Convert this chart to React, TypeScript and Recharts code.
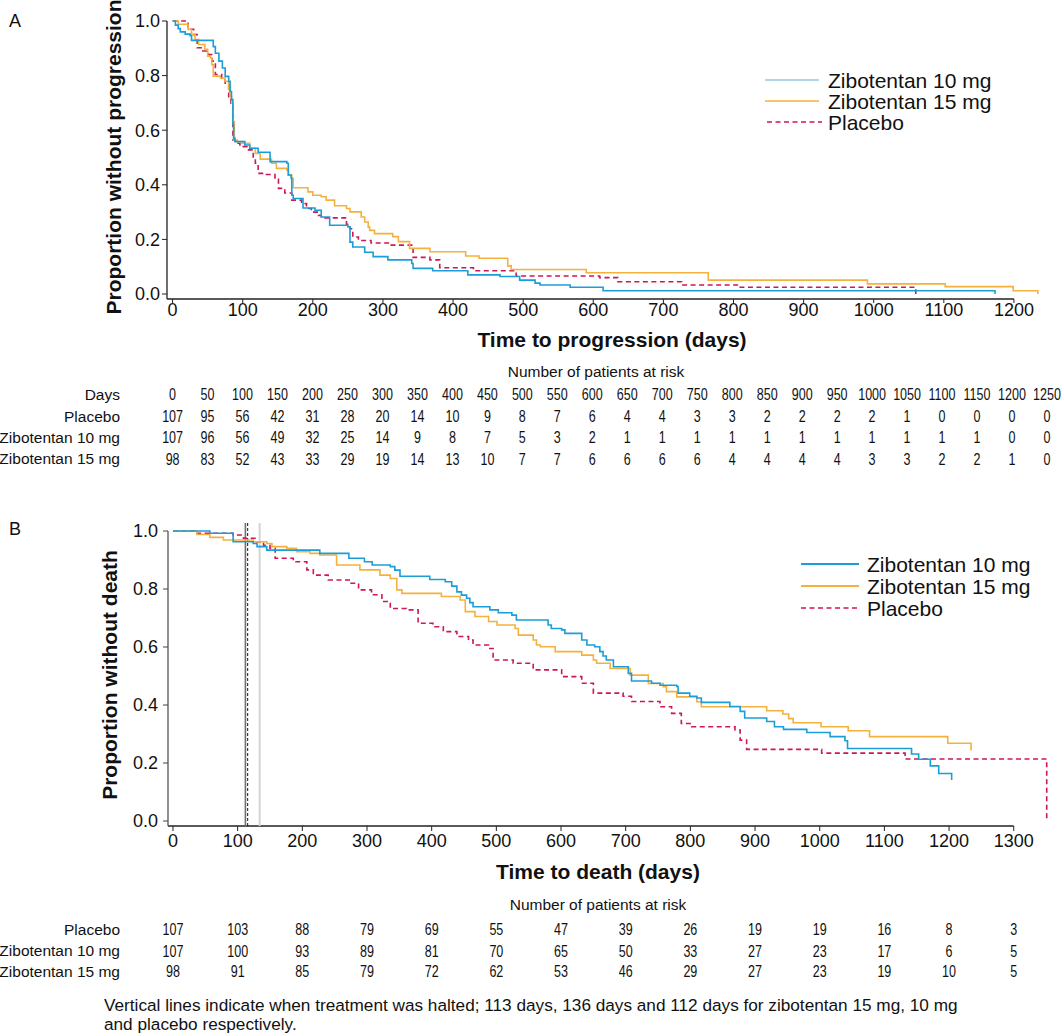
import React from "react";
import { LineChart, Line, XAxis, YAxis, ReferenceLine } from "recharts";

const FONT = '"Liberation Sans", Arial, Helvetica, sans-serif';
const BLUE = "#1b9dd9";
const BLUE_LEGEND_A = "#93c8de";
const ORANGE = "#f5b13d";
const PLACEBO = "#cf1657";

// Panel A: time to progression, [day, proportion] where each step starts
const ttp10mg: [number, number][] = [
  [0, 1.0], [4, 0.985], [8, 0.972], [11, 0.96], [18, 0.952], [25, 0.946], [27, 0.929], [58, 0.906],
  [61, 0.882], [66, 0.853], [71, 0.828], [75, 0.797], [80, 0.779], [82, 0.742], [84, 0.712], [86, 0.62],
  [87, 0.571], [89, 0.558], [103, 0.546], [110, 0.534], [122, 0.519], [139, 0.485], [163, 0.479],
  [165, 0.436], [169, 0.424], [170, 0.362], [172, 0.35], [186, 0.315], [203, 0.307], [212, 0.282],
  [224, 0.252], [250, 0.246], [253, 0.19], [257, 0.172], [274, 0.153], [286, 0.137], [307, 0.125],
  [341, 0.112], [343, 0.094], [371, 0.085], [421, 0.07], [467, 0.064], [495, 0.051], [517, 0.04],
  [524, 0.033], [567, 0.025], [614, 0.012], [1173, 0.0],
];
const ttp15mg: [number, number][] = [
  [0, 1.0], [8, 0.988], [22, 0.969], [27, 0.951], [32, 0.932], [37, 0.914], [46, 0.896], [50, 0.871],
  [54, 0.865], [56, 0.84], [58, 0.798], [68, 0.791], [75, 0.779], [80, 0.748], [82, 0.724], [84, 0.699],
  [86, 0.632], [88, 0.564], [92, 0.558], [99, 0.552], [110, 0.534], [118, 0.515], [125, 0.494],
  [141, 0.479], [148, 0.46], [163, 0.454], [165, 0.436], [170, 0.423], [172, 0.389], [193, 0.374],
  [200, 0.362], [212, 0.356], [219, 0.344], [231, 0.323], [248, 0.313], [253, 0.301], [269, 0.282],
  [274, 0.264], [279, 0.245], [281, 0.233], [288, 0.221], [314, 0.21], [322, 0.192], [338, 0.167],
  [367, 0.155], [418, 0.139], [437, 0.131], [478, 0.103], [483, 0.09], [590, 0.078], [764, 0.051],
  [991, 0.037], [1102, 0.027], [1199, 0.012], [1234, 0.0],
];
const ttpPlacebo: [number, number][] = [
  [0, 1.0], [22, 0.97], [30, 0.95], [35, 0.902], [42, 0.89], [51, 0.877], [56, 0.853], [61, 0.804],
  [70, 0.785], [75, 0.767], [80, 0.718], [83, 0.7], [86, 0.564], [89, 0.552], [96, 0.54], [106, 0.528],
  [115, 0.497], [118, 0.479], [122, 0.442], [132, 0.438], [146, 0.42], [151, 0.387], [160, 0.37],
  [170, 0.344], [184, 0.331], [191, 0.313], [198, 0.3], [208, 0.288], [212, 0.279], [248, 0.255],
  [253, 0.239], [257, 0.209], [265, 0.196], [283, 0.187], [310, 0.179], [343, 0.134], [367, 0.125],
  [381, 0.096], [429, 0.085], [490, 0.066], [609, 0.06], [635, 0.045], [726, 0.033], [807, 0.025],
  [1060, 0.0],
];

// Panel B: overall survival
const os10mg: [number, number][] = [
  [0, 1.0], [57, 0.992], [93, 0.963], [124, 0.957], [130, 0.946], [145, 0.934], [227, 0.923], [272, 0.906],
  [296, 0.894], [308, 0.883], [336, 0.877], [343, 0.865], [351, 0.844], [397, 0.833], [421, 0.825],
  [431, 0.81], [439, 0.79], [446, 0.779], [454, 0.768], [459, 0.753], [464, 0.739], [490, 0.728],
  [503, 0.718], [524, 0.71], [531, 0.693], [580, 0.676], [585, 0.664], [601, 0.659], [606, 0.647],
  [632, 0.624], [640, 0.607], [652, 0.601], [660, 0.584], [665, 0.569], [670, 0.555], [681, 0.532],
  [704, 0.509], [709, 0.483], [740, 0.475], [753, 0.468], [779, 0.464], [781, 0.441], [799, 0.43],
  [810, 0.424], [817, 0.409], [861, 0.395], [877, 0.378], [884, 0.355], [918, 0.343], [930, 0.325],
  [944, 0.316], [980, 0.305], [1016, 0.291], [1039, 0.277], [1043, 0.25], [1142, 0.231], [1153, 0.213],
  [1171, 0.19], [1184, 0.164], [1204, 0.141],
];
const os15mg: [number, number][] = [
  [0, 1.0], [37, 0.988], [57, 0.978], [78, 0.969], [124, 0.963], [145, 0.957], [153, 0.946], [176, 0.94],
  [191, 0.929], [212, 0.923], [227, 0.917], [253, 0.883], [289, 0.866], [320, 0.848], [336, 0.836],
  [346, 0.797], [354, 0.785], [415, 0.774], [444, 0.762], [452, 0.722], [467, 0.705], [488, 0.688],
  [501, 0.676], [529, 0.664], [534, 0.641], [557, 0.624], [562, 0.607], [568, 0.601], [591, 0.584],
  [632, 0.572], [650, 0.555], [655, 0.544], [676, 0.526], [707, 0.503], [735, 0.474], [758, 0.463],
  [763, 0.446], [779, 0.428], [810, 0.411], [817, 0.394], [918, 0.38], [943, 0.369], [952, 0.353],
  [959, 0.339], [1002, 0.325], [1044, 0.311], [1077, 0.291], [1198, 0.268], [1234, 0.243],
];
const osPlacebo: [number, number][] = [
  [0, 1.0], [37, 0.992], [93, 0.986], [109, 0.975], [129, 0.963], [140, 0.951], [150, 0.94], [158, 0.906],
  [186, 0.894], [207, 0.866], [217, 0.848], [240, 0.831], [274, 0.82], [287, 0.797], [307, 0.78],
  [323, 0.757], [336, 0.733], [361, 0.728], [379, 0.682], [402, 0.67], [418, 0.653], [439, 0.636],
  [457, 0.624], [464, 0.607], [488, 0.595], [495, 0.555], [526, 0.544], [557, 0.521], [601, 0.498],
  [632, 0.475], [650, 0.441], [696, 0.43], [709, 0.412], [753, 0.394], [771, 0.371], [786, 0.336],
  [802, 0.325], [869, 0.314], [877, 0.279], [887, 0.247], [1003, 0.234], [1132, 0.214], [1351, 0.0],
];

// treatment halted (days), as drawn
const haltPlacebo = 112;
const halt15mg = 115.5;
const halt10mg = 134;

const ticksA = [0, 100, 200, 300, 400, 500, 600, 700, 800, 900, 1000, 1100, 1200];
const ticksB = [0, 100, 200, 300, 400, 500, 600, 700, 800, 900, 1000, 1100, 1200, 1300];
const yTicks = [0, 0.2, 0.4, 0.6, 0.8, 1.0];

const riskDaysA = [0, 50, 100, 150, 200, 250, 300, 350, 400, 450, 500, 550, 600, 650, 700, 750, 800, 850, 900, 950, 1000, 1050, 1100, 1150, 1200, 1250];
const riskPlaceboA = [107, 95, 56, 42, 31, 28, 20, 14, 10, 9, 8, 7, 6, 4, 4, 3, 3, 2, 2, 2, 2, 1, 0, 0, 0, 0];
const risk10mgA = [107, 96, 56, 49, 32, 25, 14, 9, 8, 7, 5, 3, 2, 1, 1, 1, 1, 1, 1, 1, 1, 1, 1, 1, 0, 0];
const risk15mgA = [98, 83, 52, 43, 33, 29, 19, 14, 13, 10, 7, 7, 6, 6, 6, 6, 4, 4, 4, 4, 3, 3, 2, 2, 1, 0];

const riskDaysB = [0, 100, 200, 300, 400, 500, 600, 700, 800, 900, 1000, 1100, 1200, 1300];
const riskPlaceboB = [107, 103, 88, 79, 69, 55, 47, 39, 26, 19, 19, 16, 8, 3];
const risk10mgB = [107, 100, 93, 89, 81, 70, 65, 50, 33, 27, 23, 17, 6, 5];
const risk15mgB = [98, 91, 85, 79, 72, 62, 53, 46, 29, 27, 23, 19, 10, 5];

const toRows = (pts: [number, number][]) => pts.map(([t, p]) => ({ t, p }));

const Y_MIN_A = -0.0183;
const Y_MIN_B = -0.0172;
const X_DOM_A: [number, number] = [-8, 1245];
const X_DOM_B: [number, number] = [-7.7, 1357];

// risk table columns sit under the plot's day positions
const colA = (d: number) => 172.6 + d * 0.6995;
const colB = (d: number) => 173 + d * 0.6467;

const tickStyle = { fontSize: 18, fill: "#111", fontFamily: FONT };

// condensed number cell, like the narrow digits of the printed table
function Cell({ x, y, v }: { x: number; y: number; v: number }) {
  return (
    <g transform={`translate(${x},${y}) scale(0.76,1)`}>
      <text x={0} y={0} textAnchor="middle" fontSize={16.5} fontFamily={FONT} fill="#111">{v}</text>
    </g>
  );
}

export default function App() {
  const lineProps = { type: "stepAfter" as const, dataKey: "p", dot: false, isAnimationActive: false, strokeWidth: 1.6 };
  const txt = { fontFamily: FONT, fill: "#111" };

  return (
    <div style={{ position: "absolute", left: 0, top: 0, width: 1063, height: 1034, background: "#fff", fontFamily: FONT }}>
      <div style={{ position: "absolute", left: 0, top: 0 }}>
        <LineChart width={1063} height={340} margin={{ top: 21, right: 17.5, bottom: 11, left: 107 }}>
          <XAxis type="number" dataKey="t" domain={X_DOM_A} ticks={ticksA} interval={0} axisLine={false}
            tickLine={{ stroke: "#222" }} tickSize={4} tickMargin={0} tick={tickStyle} height={30} />
          <YAxis type="number" domain={[Y_MIN_A, 1]} ticks={yTicks} interval={0} width={60}
            tickFormatter={(v: number) => v.toFixed(1)} axisLine={{ stroke: "#222", strokeWidth: 1.3 }}
            tickLine={{ stroke: "#222" }} tickSize={5} tickMargin={2} tick={tickStyle} />
          <ReferenceLine segment={[{ x: X_DOM_A[0], y: Y_MIN_A }, { x: 1200, y: Y_MIN_A }]} stroke="#222" strokeWidth={1.3} ifOverflow="visible" />
          <Line {...lineProps} data={toRows(ttpPlacebo)} stroke={PLACEBO} strokeDasharray="5 3.5" />
          <Line {...lineProps} data={toRows(ttp15mg)} stroke={ORANGE} />
          <Line {...lineProps} data={toRows(ttp10mg)} stroke={BLUE} />
        </LineChart>
      </div>

      <div style={{ position: "absolute", left: 0, top: 500 }}>
        <LineChart width={1063} height={367} margin={{ top: 31, right: 12.4, bottom: 11, left: 108 }}>
          <XAxis type="number" dataKey="t" domain={X_DOM_B} ticks={ticksB} interval={0} axisLine={false}
            tickLine={{ stroke: "#222" }} tickSize={5} tickMargin={3} tick={tickStyle} height={30} />
          <YAxis type="number" domain={[Y_MIN_B, 1]} ticks={yTicks} interval={0} width={60}
            tickFormatter={(v: number) => v.toFixed(1)} axisLine={{ stroke: "#555", strokeWidth: 1.3 }}
            tickLine={{ stroke: "#444" }} tickSize={5} tickMargin={5} tick={tickStyle} />
          <ReferenceLine segment={[{ x: X_DOM_B[0], y: Y_MIN_B }, { x: 1300, y: Y_MIN_B }]} stroke="#222" strokeWidth={1.3} ifOverflow="visible" />
          <ReferenceLine segment={[{ x: haltPlacebo, y: Y_MIN_B }, { x: haltPlacebo, y: 1.028 }]} stroke="#6e6e6e" strokeWidth={1.6} ifOverflow="visible" />
          <ReferenceLine segment={[{ x: halt15mg, y: Y_MIN_B }, { x: halt15mg, y: 1.028 }]} stroke="#111" strokeWidth={1} strokeDasharray="3 2" ifOverflow="visible" />
          <ReferenceLine segment={[{ x: halt10mg, y: Y_MIN_B }, { x: halt10mg, y: 1.028 }]} stroke="#d4d4d4" strokeWidth={2} ifOverflow="visible" />
          <Line {...lineProps} data={toRows(osPlacebo)} stroke={PLACEBO} strokeDasharray="5 3.5" />
          <Line {...lineProps} data={toRows(os15mg)} stroke={ORANGE} />
          <Line {...lineProps} data={toRows(os10mg)} stroke={BLUE} />
        </LineChart>
      </div>

      <svg width={1063} height={1034} style={{ position: "absolute", left: 0, top: 0, pointerEvents: "none" }}>
        <text x={9} y={27} fontSize={18} {...txt}>A</text>
        <text x={9} y={535} fontSize={18} {...txt}>B</text>

        <text transform="translate(120.7,157) rotate(-90)" textAnchor="middle" fontSize={21} fontWeight="bold" {...txt}>
          Proportion without progression
        </text>
        <text transform="translate(116.7,675) rotate(-90)" textAnchor="middle" fontSize={21} fontWeight="bold" {...txt}>
          Proportion without death
        </text>
        <text x={612} y={347} textAnchor="middle" fontSize={21} fontWeight="bold" {...txt}>Time to progression (days)</text>
        <text x={598} y={879} textAnchor="middle" fontSize={21} fontWeight="bold" {...txt}>Time to death (days)</text>

        {/* legend A */}
        <line x1={765} x2={819} y1={80} y2={80} stroke={BLUE_LEGEND_A} strokeWidth={1.6} />
        <line x1={765} x2={819} y1={101} y2={101} stroke={ORANGE} strokeWidth={1.6} />
        <line x1={767} x2={822} y1={122} y2={122} stroke={PLACEBO} strokeWidth={1.6} strokeDasharray="5 3.5" />
        <text x={828} y={87.5} fontSize={21} {...txt}>Zibotentan 10 mg</text>
        <text x={828} y={108.5} fontSize={21} {...txt}>Zibotentan 15 mg</text>
        <text x={828} y={129.5} fontSize={21} {...txt}>Placebo</text>

        {/* legend B */}
        <line x1={801} x2={859} y1={564} y2={564} stroke={BLUE} strokeWidth={1.8} />
        <line x1={801} x2={859} y1={586} y2={586} stroke={ORANGE} strokeWidth={1.8} />
        <line x1={801} x2={859} y1={608} y2={608} stroke={PLACEBO} strokeWidth={1.6} strokeDasharray="5 3.5" />
        <text x={867} y={571.5} fontSize={21} {...txt}>Zibotentan 10 mg</text>
        <text x={867} y={593.5} fontSize={21} {...txt}>Zibotentan 15 mg</text>
        <text x={867} y={615.5} fontSize={21} {...txt}>Placebo</text>

        {/* risk table A */}
        <text x={596} y={376.5} textAnchor="middle" fontSize={15.5} {...txt}>Number of patients at risk</text>
        {[
          { label: "Days", vals: riskDaysA, y: 394.3 },
          { label: "Placebo", vals: riskPlaceboA, y: 416 },
          { label: "Zibotentan 10 mg", vals: risk10mgA, y: 437.3 },
          { label: "Zibotentan 15 mg", vals: risk15mgA, y: 458.7 },
        ].map((row) => (
          <g key={row.label}>
            <text x={120} y={row.y + 5.5} textAnchor="end" fontSize={15.5} {...txt}>{row.label}</text>
            {row.vals.map((v, i) => (
              <Cell key={i} x={colA(riskDaysA[i])} y={row.y + 6} v={v} />
            ))}
          </g>
        ))}

        {/* risk table B */}
        <text x={598} y={909.5} textAnchor="middle" fontSize={15.5} {...txt}>Number of patients at risk</text>
        {[
          { label: "Placebo", vals: riskPlaceboB, y: 929.3 },
          { label: "Zibotentan 10 mg", vals: risk10mgB, y: 950.7 },
          { label: "Zibotentan 15 mg", vals: risk15mgB, y: 971 },
        ].map((row) => (
          <g key={row.label}>
            <text x={120} y={row.y + 5.5} textAnchor="end" fontSize={15.5} {...txt}>{row.label}</text>
            {row.vals.map((v, i) => (
              <Cell key={i} x={colB(riskDaysB[i])} y={row.y + 6} v={v} />
            ))}
          </g>
        ))}

        <text x={104} y={1011} fontSize={17.2} {...txt}>
          Vertical lines indicate when treatment was halted; 113 days, 136 days and 112 days for zibotentan 15 mg, 10 mg
        </text>
        <text x={104} y={1030} fontSize={17.2} {...txt}>and placebo respectively.</text>
      </svg>
    </div>
  );
}
